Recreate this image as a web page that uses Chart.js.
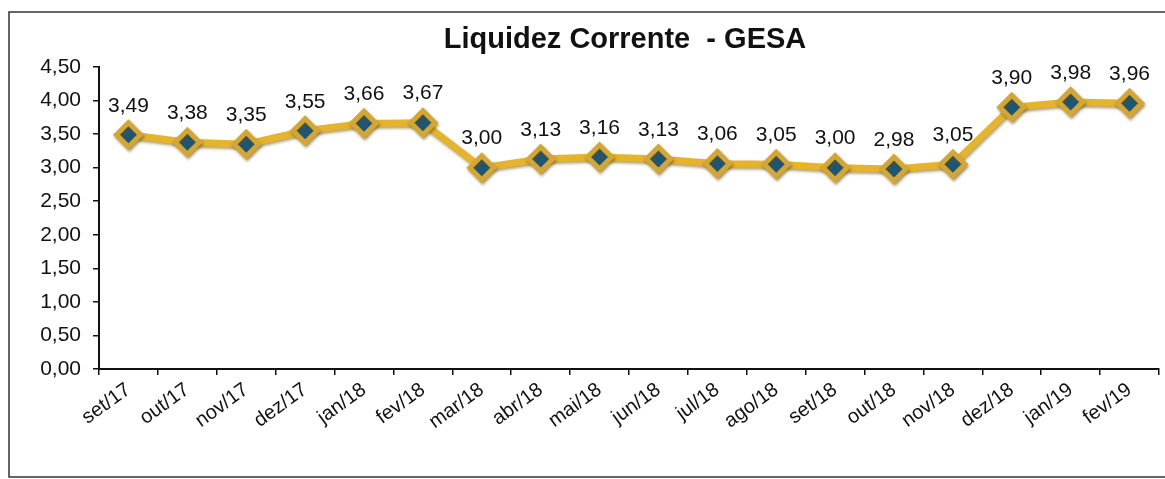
<!DOCTYPE html>
<html>
<head>
<meta charset="utf-8">
<script src="https://cdn.jsdelivr.net/npm/chart.js@4/dist/chart.umd.min.js"></script>
<style>
  html, body { margin: 0; padding: 0; background: #fff; }
  #wrap { width: 1165px; height: 479px; position: relative; }
</style>
</head>
<body>
<div id="wrap"><canvas id="c" width="1165" height="479"></canvas></div>
<script>
var months = ['set/17', 'out/17', 'nov/17', 'dez/17', 'jan/18', 'fev/18', 'mar/18', 'abr/18', 'mai/18',
  'jun/18', 'jul/18', 'ago/18', 'set/18', 'out/18', 'nov/18', 'dez/18', 'jan/19', 'fev/19'];
var liquidez = [3.49, 3.38, 3.35, 3.55, 3.66, 3.67, 3.00, 3.13, 3.16, 3.13, 3.06, 3.05, 3.00, 2.98, 3.05, 3.90, 3.98, 3.96];
var yTicks = [0, 0.5, 1, 1.5, 2, 2.5, 3, 3.5, 4, 4.5];
var titleText = 'Liquidez Corrente  - GESA';

var FONT = '"Liberation Sans", Arial, sans-serif';

function fmt(v) {
  return v.toFixed(2).replace('.', ',');
}

// frame around the whole chart + title centred over the plot area
var framePlugin = {
  id: 'frame',
  beforeDraw: function (chart) {
    var ctx = chart.ctx;
    ctx.save();
    ctx.fillStyle = '#fff';
    ctx.fillRect(0, 0, chart.width, chart.height);
    ctx.strokeStyle = '#333';
    ctx.lineWidth = 1.5;
    ctx.strokeRect(9, 12, chart.width, 465);
    ctx.restore();
  },
  afterDraw: function (chart) {
    var ctx = chart.ctx;
    var a = chart.chartArea;
    ctx.save();
    ctx.font = 'bold 29px ' + FONT;
    ctx.fillStyle = '#111';
    ctx.textAlign = 'center';
    ctx.textBaseline = 'alphabetic';
    ctx.fillText(titleText, (a.left + a.right) / 2 - 4, 48);
    ctx.restore();
  }
};

// soft shadow under the gold line
var shadowPlugin = {
  id: 'lineShadow',
  beforeDatasetDraw: function (chart) {
    var ctx = chart.ctx;
    ctx.save();
    ctx.shadowColor = 'rgba(110, 80, 0, 0.55)';
    ctx.shadowBlur = 3;
    ctx.shadowOffsetX = 1;
    ctx.shadowOffsetY = 2;
  },
  afterDatasetDraw: function (chart) {
    chart.ctx.restore();
  }
};

// value labels above each point
var valueLabels = {
  id: 'valueLabels',
  afterDatasetsDraw: function (chart) {
    var ctx = chart.ctx;
    var meta = chart.getDatasetMeta(0);
    ctx.save();
    ctx.font = '21px ' + FONT;
    ctx.fillStyle = '#111';
    ctx.textAlign = 'center';
    ctx.textBaseline = 'middle';
    meta.data.forEach(function (pt, i) {
      ctx.fillText(fmt(liquidez[i]), pt.x, pt.y - 29);
    });
    ctx.restore();
  }
};

new Chart(document.getElementById('c'), {
  type: 'line',
  data: {
    labels: months,
    datasets: [{
      data: liquidez,
      borderColor: '#E6B42C',
      borderWidth: 7,
      tension: 0,
      pointStyle: 'rectRot',
      pointRadius: 12,
      pointHoverRadius: 12,
      pointBackgroundColor: '#1F5674',
      pointBorderColor: '#D3A638',
      pointBorderWidth: 5
    }]
  },
  options: {
    responsive: false,
    animation: false,
    events: [],
    layout: { autoPadding: false, padding: { top: 67, right: 6, bottom: 0, left: 0 } },
    plugins: {
      legend: { display: false },
      tooltip: { enabled: false },
      title: { display: false }
    },
    scales: {
      x: {
        offset: true,
        afterFit: function (scale) {
          scale.height = 110;
          scale.paddingRight = 0;
          scale.paddingLeft = 0;
        },
        grid: {
          offset: true,
          drawOnChartArea: false,
          drawTicks: true,
          tickLength: 6,
          color: '#111',
          lineWidth: 1.5
        },
        border: { color: '#111', width: 2 },
        ticks: {
          color: '#111',
          font: { family: FONT, size: 20 },
          minRotation: 36,
          maxRotation: 36,
          autoSkip: false,
          padding: 3
        }
      },
      y: {
        min: 0,
        max: 4.5,
        afterFit: function (scale) {
          scale.width = 99;
          scale.paddingTop = 0;
          scale.paddingBottom = 0;
        },
        afterBuildTicks: function (scale) {
          scale.ticks = yTicks.map(function (v) { return { value: v }; });
        },
        grid: {
          drawOnChartArea: false,
          drawTicks: true,
          tickLength: 6,
          color: '#111',
          lineWidth: 1.5
        },
        border: { color: '#111', width: 2 },
        ticks: {
          color: '#111',
          font: { family: FONT, size: 21 },
          padding: 12,
          callback: function (v) { return fmt(v); }
        }
      }
    }
  },
  plugins: [framePlugin, shadowPlugin, valueLabels]
});
</script>
</body>
</html>
